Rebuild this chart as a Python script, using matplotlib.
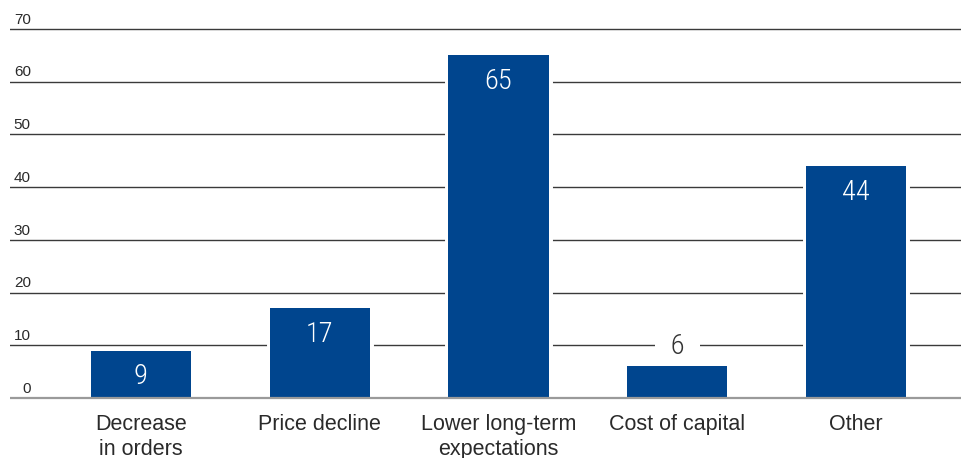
import matplotlib.pyplot as plt

# data
categories = ['Decrease\nin orders', 'Price decline', 'Lower long-term\nexpectations',
              'Cost of capital', 'Other']
values = [9, 17, 65, 6, 44]
y_ticks = [0, 10, 20, 30, 40, 50, 60, 70]

bar_color = '#00458e'
text_color = '#2a2a2a'
base_font = ['Liberation Sans', 'DejaVu Sans']
value_font = ['Roboto Condensed', 'Barlow Condensed', 'Liberation Sans Narrow', 'DejaVu Sans']

fig = plt.figure(figsize=(9.62, 4.58), dpi=100)
ax = fig.add_axes([10 / 962, 0.1194, 952 / 962, 0.8288])

x = list(range(len(categories)))
bar_w = 0.56

# grid lines behind everything
for t in y_ticks[1:]:
    ax.axhline(t, color='#3a3a3a', lw=1.0, zorder=1)
ax.axhline(0, color='#9a9a9a', lw=1.6, zorder=5)

# white halo so the grid stops short of the bars, then the bars
ax.bar(x, values, bar_w, color='white', edgecolor='white', linewidth=5, zorder=2)
ax.bar(x, values, bar_w, color=bar_color, linewidth=0, zorder=3)

# value labels: inside the bar, or above it when the bar is too short
for xi, v in zip(x, values):
    if v >= 8:
        ax.annotate(str(v), xy=(xi, v), xytext=(0, -9), textcoords='offset points',
                    ha='center', va='top', color='white', fontsize=20.5,
                    family=value_font, stretch='condensed', weight='light', zorder=4)
    else:
        ax.annotate('  ' + str(v) + '  ', xy=(xi, v), xytext=(0, 14), textcoords='offset points',
                    ha='center', va='center', color='#333333', fontsize=20.5,
                    family=value_font, stretch='condensed', weight='light', zorder=4,
                    bbox=dict(boxstyle='square,pad=0.1', fc='white', ec='none'))

# y labels sitting above the grid lines
ytrans = ax.get_yaxis_transform()
for t in y_ticks:
    ax.annotate(str(t), xy=(0, t), xycoords=ytrans, xytext=(15, 3.8),
                textcoords='offset points', ha='right', va='baseline',
                fontsize=11, color=text_color, family=base_font)

ax.set_xlim(-0.732, 4.592)
ax.set_ylim(-1, 71)
ax.set_yticks([])
ax.set_xticks(x)
ax.set_xticklabels(categories, fontsize=15.5, color=text_color, family=base_font,
                   linespacing=1.25)
ax.tick_params(axis='x', length=0, pad=8)
for s in ax.spines.values():
    s.set_visible(False)

fig.savefig('out.png', dpi=100)
